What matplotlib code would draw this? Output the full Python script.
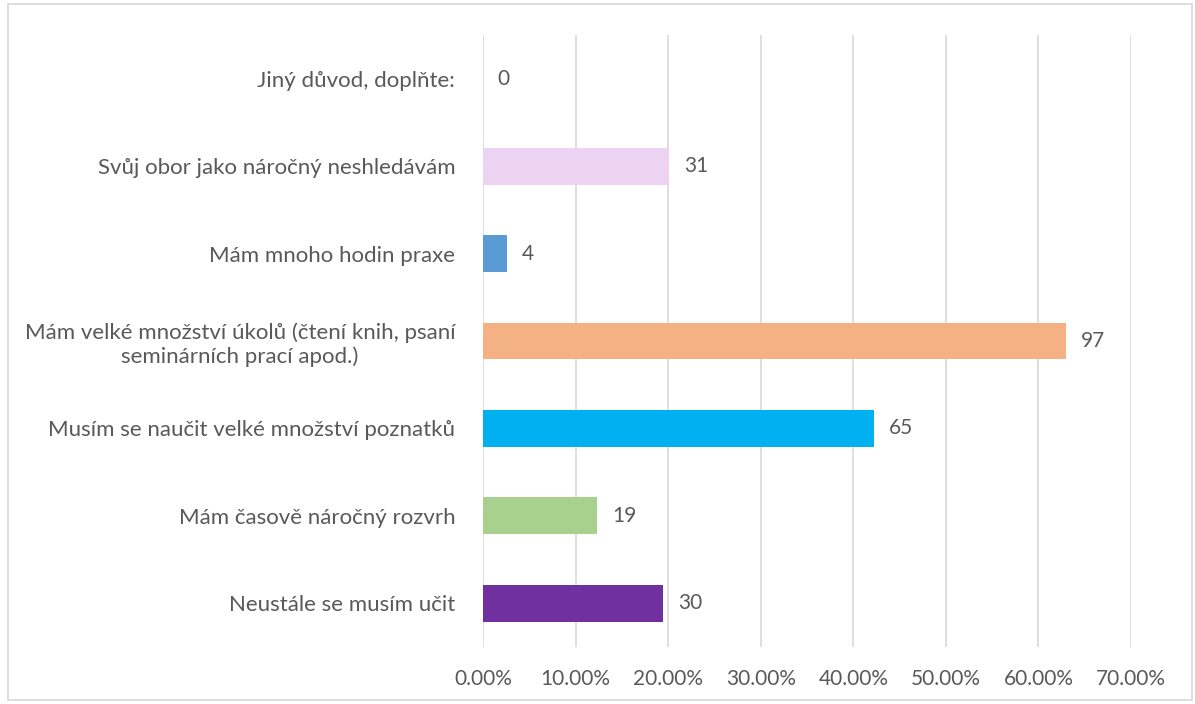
import matplotlib
matplotlib.use("Agg")
import matplotlib.pyplot as plt
from matplotlib.patches import Rectangle
from matplotlib.ticker import PercentFormatter

# Odpovedi (pocty respondentu) a celkovy pocet
kategorie = [
    "Neustále se musím učit",
    "Mám časově náročný rozvrh",
    "Musím se naučit velké množství poznatků",
    "Mám velké množství úkolů (čtení knih, psaní\nseminárních prací apod.)",
    "Mám mnoho hodin praxe",
    "Svůj obor jako náročný neshledávám",
    "Jiný důvod, doplňte:",
]
pocty = [30, 19, 65, 97, 4, 31, 0]
celkem = 154
barvy = ["#7030A0", "#A9D18E", "#00B0F0", "#F4B183", "#5B9BD5", "#EBD3F1", "#A5A5A5"]
xticks = [0, 10, 20, 30, 40, 50, 60, 70]

plt.rcParams["font.family"] = ["Lato", "DejaVu Sans"]
TXT = "#595959"

fig = plt.figure(figsize=(11.95, 7.04), dpi=100)
ax = fig.add_axes([483 / 1195, 1 - 647 / 704, (1131 - 483) / 1195, (647 - 35) / 704])

podil = [100 * p / celkem for p in pocty]
y = range(len(kategorie))
ax.barh(y, podil, height=0.42, color=barvy, zorder=3)

for yi, (p, v) in enumerate(zip(podil, pocty)):
    ax.text(p + 1.6, yi, str(v), va="center", ha="left", fontsize=15, color=TXT)

ax.set_xlim(0, 70)
ax.set_ylim(-0.5, len(kategorie) - 0.5)
ax.set_xticks(xticks)
ax.xaxis.set_major_formatter(PercentFormatter(decimals=2))
ax.set_yticks(list(y))
ax.set_yticklabels(kategorie, multialignment="center")
ax.tick_params(axis="y", length=0, pad=20, labelsize=16, labelcolor=TXT)
ax.tick_params(axis="x", length=0, pad=16, labelsize=15, labelcolor=TXT)
ax.grid(axis="x", color="#D9D9D9", lw=1.2, zorder=0)
for s in ax.spines.values():
    s.set_visible(False)

# ramecek kolem grafu
fig.patches.append(Rectangle((8 / 1195, 4 / 704), 1184 / 1195, 696 / 704,
                             transform=fig.transFigure, fill=False,
                             edgecolor="#D9D9D9", lw=1.2))

fig.savefig("out.png", dpi=100)
